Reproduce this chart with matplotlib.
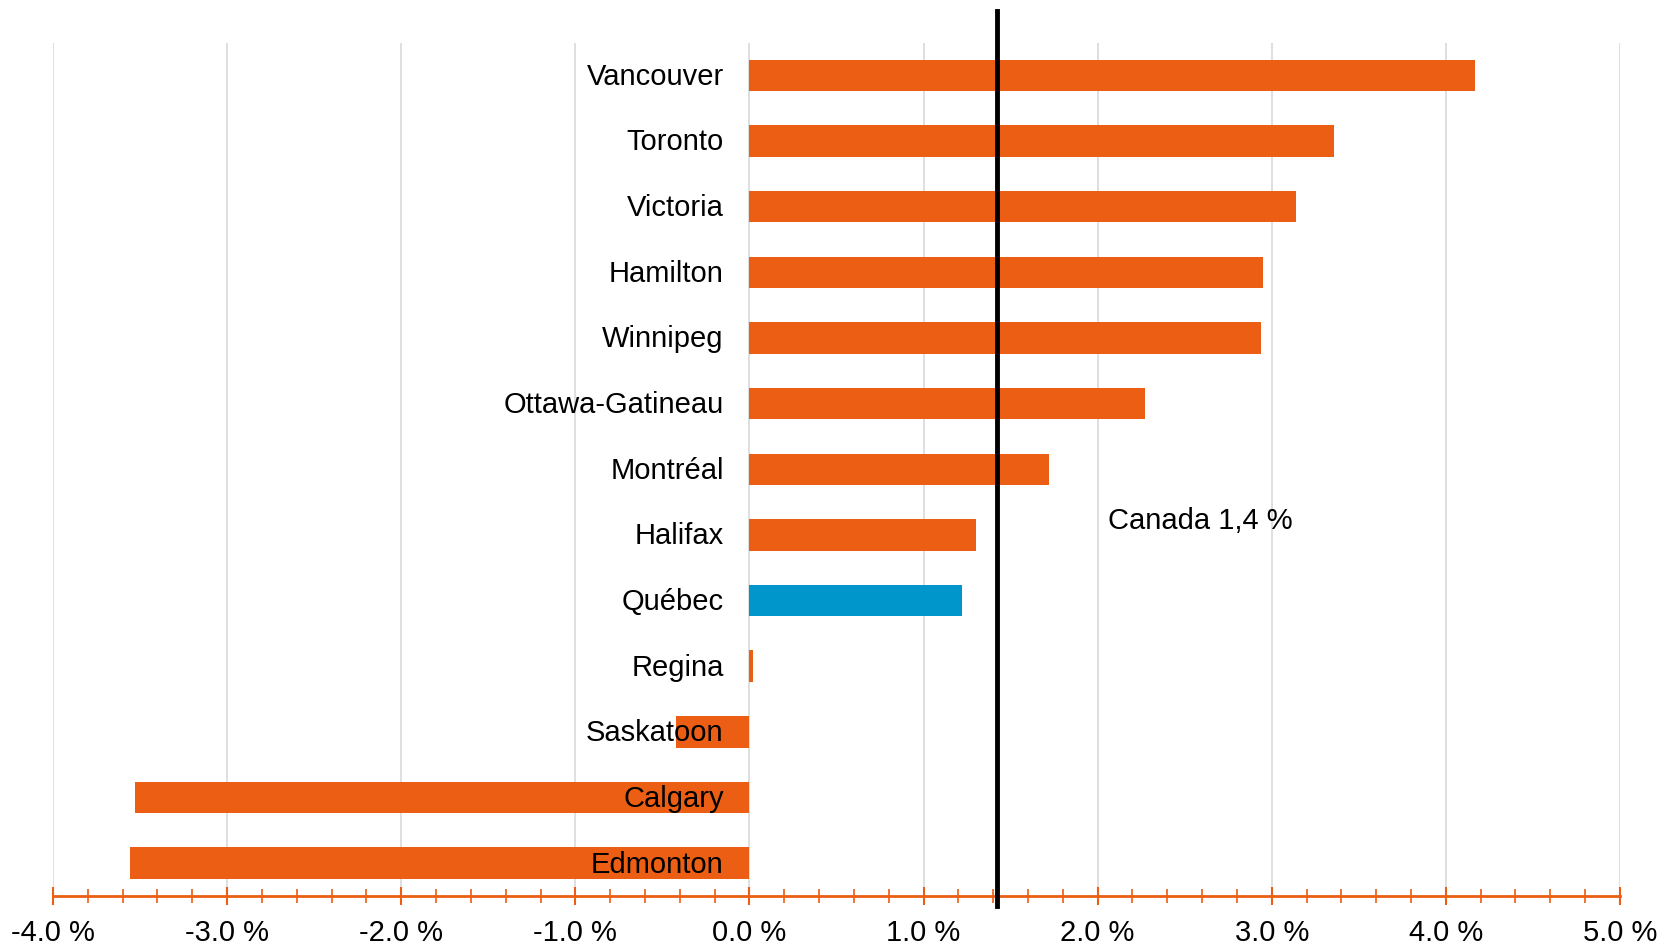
import matplotlib.pyplot as plt
import numpy as np
from matplotlib.ticker import MultipleLocator

plt.rcParams["font.family"] = ["Liberation Sans", "DejaVu Sans"]

cities = ["Vancouver", "Toronto", "Victoria", "Hamilton", "Winnipeg",
          "Ottawa-Gatineau", "Montréal", "Halifax", "Québec", "Regina",
          "Saskatoon", "Calgary", "Edmonton"]
growth = [4.17, 3.36, 3.14, 2.95, 2.94, 2.27, 1.72, 1.30, 1.22, 0.02,
          -0.42, -3.53, -3.56]
canada = 1.42
canada_label = "Canada 1,4 %"
xticks = [-4, -3, -2, -1, 0, 1, 2, 3, 4, 5]
xlabels = ["-4.0 %", "-3.0 %", "-2.0 %", "-1.0 %", "0.0 %",
           "1.0 %", "2.0 %", "3.0 %", "4.0 %", "5.0 %"]

orange = "#EB5E13"
blue = "#0095CB"
colors = [blue if c == "Québec" else orange for c in cities]

fig = plt.figure(figsize=(16.62, 9.47), dpi=100)
ax = fig.add_axes([0.0319, 0.0539, 0.9428, 0.9011])

y = np.arange(len(cities))
ax.barh(y, growth, height=0.48, color=colors, zorder=2)

for i, name in enumerate(cities):
    ax.annotate(name, (0, i), xytext=(-18.5, -1), textcoords="offset points",
                ha="right", va="center", fontsize=21, zorder=4)

ax.axvline(canada, ymin=-0.012, ymax=1.037, color="black", lw=3.5,
           clip_on=False, zorder=3)
ax.text(canada + 0.64, 6.79, canada_label, ha="left", va="center", fontsize=21)

ax.set_xlim(-4, 5)
ax.set_ylim(len(cities) - 0.5, -0.5)
ax.set_xticks(xticks)
ax.set_xticklabels(xlabels, fontsize=21)
ax.xaxis.set_minor_locator(MultipleLocator(0.2))
ax.set_yticks([])

ax.grid(axis="x", color="#D9D9D9", lw=1.2, zorder=0)
ax.set_axisbelow(True)
for s in ["top", "right", "left"]:
    ax.spines[s].set_visible(False)
ax.spines["bottom"].set_color(orange)
ax.spines["bottom"].set_linewidth(2)
ax.tick_params(axis="x", which="major", direction="inout", length=13,
               width=1.5, color=orange, pad=10)
ax.tick_params(axis="x", which="minor", direction="inout", length=9.5,
               width=1.2, color=orange)

fig.savefig("out.png", dpi=100)
